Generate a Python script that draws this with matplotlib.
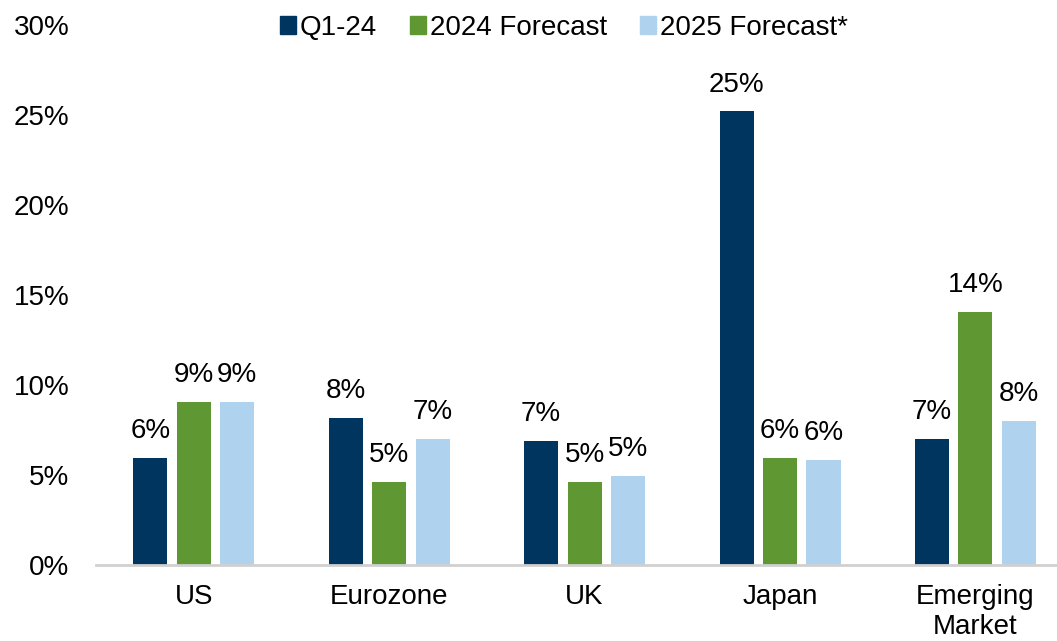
import numpy as np
import matplotlib.pyplot as plt
from matplotlib.patches import Patch

plt.rcParams['font.family'] = ['Liberation Sans', 'DejaVu Sans']

regions = ["US", "Eurozone", "UK", "Japan", "Emerging\nMarket"]
series_names = ["Q1-24", "2024 Forecast", "2025 Forecast*"]
q1_24 = [5.95, 8.15, 6.9, 25.2, 7.0]
fc_2024 = [9.05, 4.6, 4.6, 5.95, 14.05]
fc_2025 = [9.05, 7.0, 4.95, 5.85, 8.0]
colors = ["#00355f", "#5f9732", "#afd3ef"]

fig = plt.figure(figsize=(10.57, 6.41), dpi=100)
ax = fig.add_axes([0.0908, 0.1186, 0.9245, 0.8424])

x = np.arange(len(regions))
width = 0.174
step = 0.2225
for i, (vals, name, c) in enumerate(zip([q1_24, fc_2024, fc_2025], series_names, colors)):
    pos = x + (i - 1) * step
    ax.bar(pos, vals, width, color=c, label=name)
    for px, v in zip(pos, vals):
        ax.annotate(f"{v:.0f}%", (px, v), xytext=(0, 10), textcoords="offset points",
                    ha="center", va="bottom", fontsize=20, color="black")

ax.set_xlim(-0.5, len(regions) - 0.5)
ax.set_ylim(0, 30)
ax.set_yticks(np.arange(0, 31, 5))
ax.set_yticklabels([f"{t}%" for t in range(0, 31, 5)])
ax.set_xticks(x)
ax.set_xticklabels(regions)
ax.tick_params(axis="both", length=0, labelsize=20, colors="black")
ax.tick_params(axis="x", pad=14)
ax.tick_params(axis="y", pad=19)
for s in ["top", "right", "left"]:
    ax.spines[s].set_visible(False)
ax.spines["bottom"].set_color("#d0d0d0")
ax.spines["bottom"].set_linewidth(2)

handles = [Patch(color=c, label=n) for c, n in zip(colors, series_names)]
ax.legend(handles=handles, loc="center", bbox_to_anchor=(0.479, 0.995), ncol=3,
          frameon=False, fontsize=20, handlelength=0.55, handleheight=0.6,
          handletextpad=0.15, columnspacing=1.2)

fig.savefig("out.png", dpi=100)
